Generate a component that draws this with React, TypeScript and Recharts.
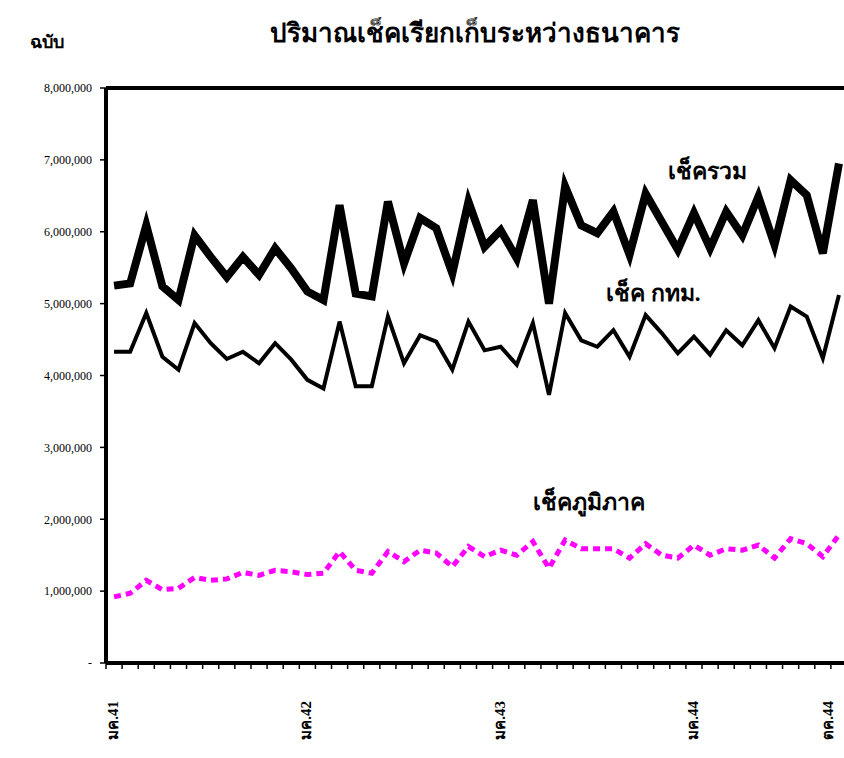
import React from 'react';
import { LineChart, Line, XAxis, YAxis, ReferenceLine } from 'recharts';

// เดือน ม.ค. 41 - ต.ค. 44 (46 เดือน)
const total = [
  5250000, 5280000, 6090000, 5240000, 5050000, 5950000, 5650000, 5370000, 5650000, 5400000, 5770000, 5490000,
  5170000, 5050000, 6370000, 5140000, 5100000, 6420000, 5560000, 6190000, 6050000, 5420000, 6420000, 5790000,
  6020000, 5630000, 6440000, 5000000, 6630000, 6090000, 5980000, 6280000, 5680000, 6530000, 6140000, 5750000,
  6260000, 5770000, 6280000, 5950000, 6490000, 5820000, 6720000, 6510000, 5700000, 6950000,
];
const bkk = [
  4330000, 4330000, 4870000, 4260000, 4080000, 4730000, 4450000, 4230000, 4330000, 4170000, 4450000, 4220000,
  3940000, 3820000, 4750000, 3850000, 3850000, 4820000, 4170000, 4560000, 4470000, 4080000, 4750000, 4350000,
  4400000, 4150000, 4730000, 3730000, 4870000, 4490000, 4400000, 4630000, 4260000, 4840000, 4590000, 4310000,
  4540000, 4290000, 4630000, 4420000, 4770000, 4380000, 4960000, 4820000, 4240000, 5120000,
];
const region = [
  920000, 970000, 1150000, 1020000, 1040000, 1190000, 1150000, 1170000, 1260000, 1220000, 1290000, 1270000,
  1230000, 1250000, 1550000, 1290000, 1250000, 1550000, 1410000, 1570000, 1530000, 1340000, 1620000, 1480000,
  1570000, 1500000, 1690000, 1320000, 1710000, 1590000, 1590000, 1590000, 1460000, 1660000, 1500000, 1460000,
  1640000, 1500000, 1590000, 1570000, 1640000, 1460000, 1730000, 1660000, 1480000, 1780000,
];
const labelIdx = [0, 12, 24, 36, 45];
const labelText = ['มค.41', 'มค.42', 'มค.43', 'มค.44', 'ตค.44'];
const yTicks = [0, 1000000, 2000000, 3000000, 4000000, 5000000, 6000000, 7000000, 8000000];

const data = total.map((v, i) => ({ idx: i, total: v, bkk: bkk[i], region: region[i] }));
const monthTicks = Array.from({ length: total.length + 1 }, (_, i) => i - 0.5);

const serif = '"Liberation Serif", "Times New Roman", serif';

const LabelTick = (props: any) => {
  const { x, y, payload } = props;
  const k = labelIdx.indexOf(payload.value);
  if (k < 0) return null;
  // last label sits at the page edge, keep it inside
  const tx = Math.min(x + 4, 833);
  return (
    <text
      x={0}
      y={0}
      transform={`translate(${tx},${y + 26}) rotate(-90)`}
      textAnchor="end"
      fontFamily={serif}
      fontWeight="bold"
      fontSize={15}
      fill="#000"
    >
      {labelText[k]}
    </text>
  );
};

const txt = (extra: React.CSSProperties): React.CSSProperties => ({
  position: 'absolute',
  fontFamily: serif,
  color: '#000',
  whiteSpace: 'nowrap',
  ...extra,
});

export default function App() {
  return (
    <div style={{ position: 'fixed', left: 0, top: 0, width: 844, height: 758, overflow: 'hidden', background: '#fff' }}>
      <LineChart width={870} height={758} data={data} margin={{ top: 88, right: 23, bottom: 0, left: 0 }}>
        <XAxis
          xAxisId="a"
          dataKey="idx"
          type="number"
          domain={[-0.5, 45.5]}
          ticks={monthTicks}
          tickFormatter={() => ''}
          tickSize={6}
          tickLine={{ stroke: '#000', strokeWidth: 1.5 }}
          axisLine={{ stroke: '#000', strokeWidth: 4 }}
          height={10}
          interval={0}
          allowDataOverflow
        />
        <XAxis
          xAxisId="b"
          dataKey="idx"
          type="number"
          domain={[-0.5, 45.5]}
          ticks={labelIdx}
          tick={<LabelTick />}
          tickLine={false}
          axisLine={false}
          tickSize={0}
          height={85}
          interval={0}
        />
        <YAxis
          domain={[0, 8000000]}
          ticks={yTicks}
          width={106}
          interval={0}
          tickFormatter={(v: number) => (v === 0 ? '-' : v.toLocaleString('en-US'))}
          tick={{ fill: '#000', fontSize: 12, fontFamily: serif }}
          tickSize={6}
          tickMargin={8}
          tickLine={{ stroke: '#000', strokeWidth: 1.5 }}
          axisLine={{ stroke: '#000', strokeWidth: 4 }}
        />
        <ReferenceLine xAxisId="a" y={8000000} stroke="#000" strokeWidth={4} />
        <Line xAxisId="a" dataKey="total" stroke="#000" strokeWidth={8} dot={false} isAnimationActive={false} strokeLinejoin="miter" />
        <Line xAxisId="a" dataKey="bkk" stroke="#000" strokeWidth={4} dot={false} isAnimationActive={false} strokeLinejoin="miter" />
        <Line xAxisId="a" dataKey="region" stroke="#ff00ff" strokeWidth={5} strokeDasharray="7 5" dot={false} isAnimationActive={false} />
      </LineChart>
      <div style={txt({ left: 0, width: 950, top: 12, textAlign: 'center', fontSize: 26, fontWeight: 'bold' })}>
        ปริมาณเช็คเรียกเก็บระหว่างธนาคาร
      </div>
      <div style={txt({ left: 30, top: 27, fontSize: 18, fontWeight: 'bold' })}>ฉบับ</div>
      <div style={txt({ left: 668, top: 153, fontSize: 23, fontWeight: 'bold' })}>เช็ครวม</div>
      <div style={txt({ left: 606, top: 275, fontSize: 23, fontWeight: 'bold' })}>เช็ค กทม.</div>
      <div style={txt({ left: 533, top: 484, fontSize: 23, fontWeight: 'bold' })}>เช็คภูมิภาค</div>
    </div>
  );
}
